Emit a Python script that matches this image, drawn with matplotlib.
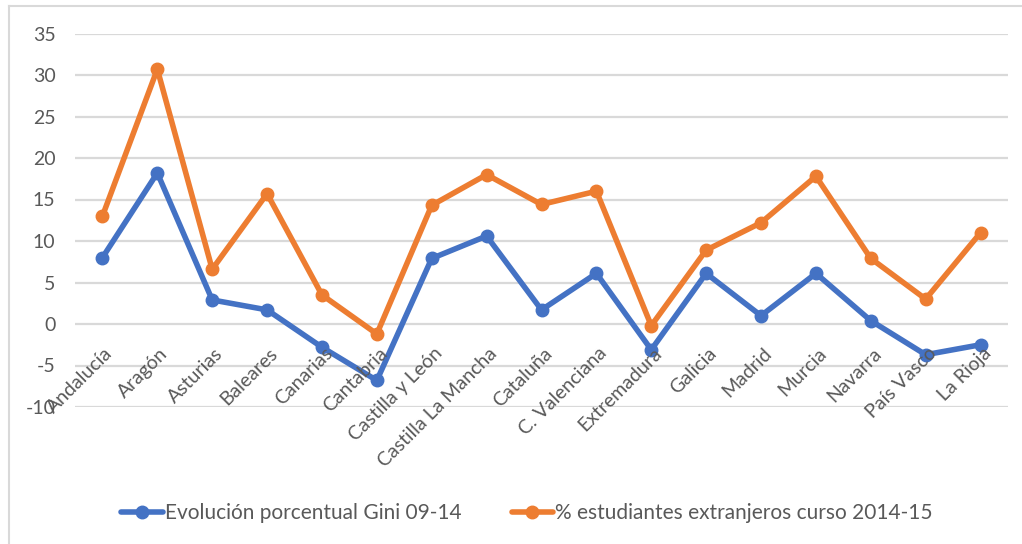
import matplotlib
matplotlib.use("Agg")
import matplotlib.pyplot as plt
from matplotlib.lines import Line2D

regiones = ["Andalucía", "Aragón", "Asturias", "Baleares", "Canarias", "Cantabria",
            "Castilla y León", "Castilla La Mancha", "Cataluña", "C. Valenciana",
            "Extremadura", "Galicia", "Madrid", "Murcia", "Navarra", "País Vasco",
            "La Rioja"]
gini = [8.0, 18.2, 2.9, 1.7, -2.8, -6.8, 7.9, 10.6, 1.7, 6.1, -3.1, 6.1, 1.0, 6.1,
        0.4, -3.7, -2.5]
extranjeros = [13.0, 30.7, 6.6, 15.7, 3.5, -1.2, 14.3, 18.0, 14.4, 16.0, -0.2, 8.9,
               12.2, 17.8, 7.9, 3.0, 11.0]
yticks = [-10, -5, 0, 5, 10, 15, 20, 25, 30, 35]
serie_gini = "Evolución porcentual Gini 09-14"
serie_ext = "% estudiantes extranjeros curso 2014-15"

plt.rcParams["font.family"] = ["Lato", "DejaVu Sans"]
gris = "#595959"
azul = "#4472C4"
naranja = "#ED7D31"

fig = plt.figure(figsize=(10.22, 5.44), dpi=100)
W, H = 1022, 544
ax = fig.add_axes([75 / W, 1 - 407 / H, (1008 - 75) / W, (407 - 33.5) / H])

x = list(range(len(regiones)))
ax.plot(x, gini, color=azul, lw=4.0, marker="o", ms=9, label=serie_gini,
        solid_joinstyle="round", solid_capstyle="round", zorder=3)
ax.plot(x, extranjeros, color=naranja, lw=4.0, marker="o", ms=9, label=serie_ext,
        solid_joinstyle="round", solid_capstyle="round", zorder=3)

ax.set_xlim(-0.5, len(regiones) - 0.5)
ax.set_ylim(-10, 35)
ax.set_yticks(yticks)
ax.set_yticklabels([str(v) for v in yticks], fontsize=14, color=gris)
ax.tick_params(axis="y", length=0, pad=14)
ax.set_xticks([])
ax.grid(axis="y", color="#D9D9D9", lw=1.6)
ax.set_axisbelow(True)
for s in ax.spines.values():
    s.set_visible(False)

# category labels rotated just under the zero line
for xi, name in zip(x, regiones):
    ax.text(xi + 0.03, -2.5, name, rotation=45, ha="right", va="top",
            rotation_mode="anchor", fontsize=14, color=gris, zorder=4)

leg = fig.legend(loc="center", bbox_to_anchor=(527 / W, 1 - 513 / H), ncol=2,
                 frameon=False, fontsize=15, handlelength=2.0, columnspacing=2.4,
                 handletextpad=0.1, labelcolor=gris)

# light chart-area border (top and left edges)
fig.add_artist(Line2D([8.5 / W, 8.5 / W], [0, 1 - 6 / H], color="#D9D9D9", lw=1.5,
                      transform=fig.transFigure))
fig.add_artist(Line2D([8.5 / W, 1], [1 - 6 / H, 1 - 6 / H], color="#D9D9D9", lw=1.5,
                      transform=fig.transFigure))

fig.savefig("out.png", dpi=100)
